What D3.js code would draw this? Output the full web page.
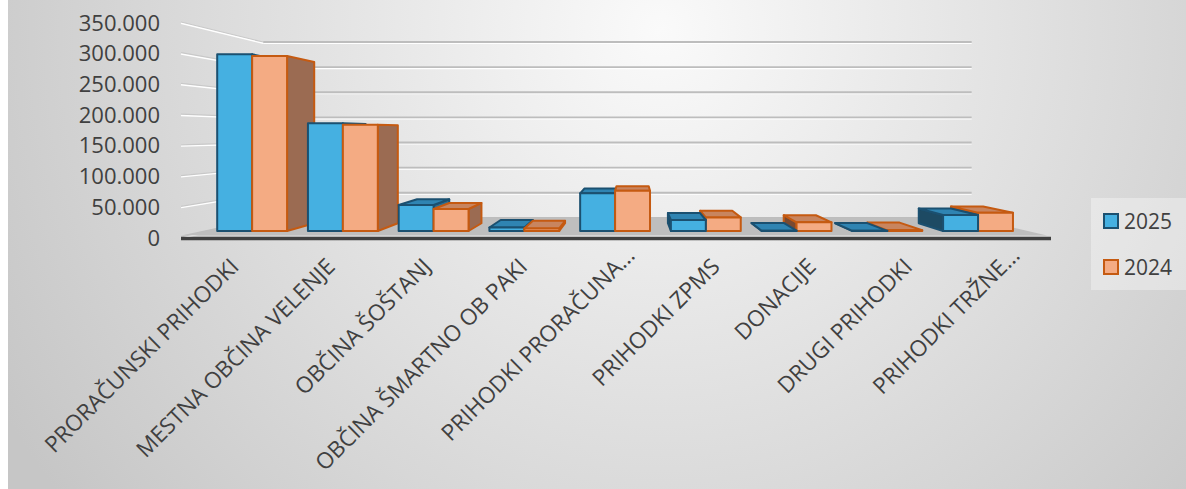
<!DOCTYPE html>
<html>
<head>
<meta charset="utf-8">
<script src="https://cdn.jsdelivr.net/npm/d3@7"></script>
<style>
    html, body { margin: 0; padding: 0; background: #fff; }
    svg { display: block; font-family: "Open Sans", sans-serif; }
</style>
</head>
<body>
<div id="chart"></div>
<script>
const categories = [
    'PRORAČUNSKI PRIHODKI',
    'MESTNA OBČINA VELENJE',
    'OBČINA ŠOŠTANJ',
    'OBČINA ŠMARTNO OB PAKI',
    'PRIHODKI PRORAČUNA…',
    'PRIHODKI ZPMS',
    'DONACIJE',
    'DRUGI PRIHODKI',
    'PRIHODKI TRŽNE…'
];
const seriesNames = ['2025', '2024'];
const values2025 = [305000, 186000, 45000, 6000, 65000, 19000, 500, 300, 27500];
const values2024 = [302000, 183500, 38000, 4500, 69500, 23500, 15000, 1200, 31500];
const yTicks = [0, 50000, 100000, 150000, 200000, 250000, 300000, 350000];

class Column3D {
    constructor({width, height}) {
        this.width = width;
        this.height = height;
        // vanishing point and depth factors (1 = front edge of the floor)
        this.vx = 633;
        this.vy = 132;
        this.wallDepth = 0.818;
        this.barFront = 0.943;
        this.barBack = 0.869;

        this.x = d3.scaleBand()
            .domain(categories)
            .range([181, 1047])
            .paddingInner(0.23)
            .paddingOuter(0.115);
        this.xSub = d3.scaleBand()
            .domain(seriesNames)
            .range([0, this.x.bandwidth()]);
        this.y = d3.scaleLinear()
            .domain([0, 350000])
            .range([237, 22]);

        this.styles = {
            '2025': {front: '#45B0E1', top: '#2F84B2', left: '#1D4A63', right: '#2B6E92', stroke: '#1B5070'},
            '2024': {front: '#F4AB83', top: '#C8855F', left: '#7A4A31', right: '#9B6B52', stroke: '#C55A11'}
        };

        this.svg = d3.select('#chart')
            .append('svg')
            .attr('width', width)
            .attr('height', height);

        this.drawBackground();
        this.drawWalls();
        this.drawBars();
        this.drawAxes();
        this.drawLegend();
    }

    /**
     * Perspective projection of a point of the front plane pushed back to depth f.
     */
    project(X, Y, f) {
        return [this.vx + (X - this.vx) * f, this.vy + (Y - this.vy) * f];
    }

    poly(points) {
        return 'M' + points.map(p => this.project(p[0], p[1], p[2]).join(',')).join('L') + 'Z';
    }

    drawBackground() {
        const defs = this.svg.append('defs');
        const grad = defs.append('radialGradient')
            .attr('id', 'bg')
            .attr('gradientUnits', 'userSpaceOnUse')
            .attr('cx', 660).attr('cy', 30).attr('r', 760);
        grad.append('stop').attr('offset', 0).attr('stop-color', '#FAFAFA');
        grad.append('stop').attr('offset', 1).attr('stop-color', '#C6C6C6');

        this.svg.append('rect')
            .attr('width', this.width)
            .attr('height', this.height)
            .attr('fill', 'url(#bg)');
        this.svg.append('rect')
            .attr('width', 8)
            .attr('height', this.height)
            .attr('fill', '#FFFFFF');
    }

    drawWalls() {
        const g = this.svg.append('g').classed('walls', true);
        const [x0, x1] = this.x.range();
        const w = this.wallDepth;

        yTicks.forEach(t => {
            const yt = this.y(t);
            const a = this.project(x0, yt, 1);
            const b = this.project(x0, yt, w);
            const c = this.project(x1, yt, w);
            // left wall (side) line
            g.append('line')
                .attr('x1', a[0]).attr('y1', a[1] + 1)
                .attr('x2', b[0]).attr('y2', b[1] + 1)
                .attr('stroke', '#FFFFFF').attr('stroke-width', 2);
            g.append('line')
                .attr('x1', a[0]).attr('y1', a[1])
                .attr('x2', b[0]).attr('y2', b[1])
                .attr('stroke', '#C8C8C8').attr('stroke-width', 1.2);
            // back wall line
            g.append('line')
                .attr('x1', b[0]).attr('y1', c[1] + 1.5)
                .attr('x2', c[0]).attr('y2', c[1] + 1.5)
                .attr('stroke', '#FFFFFF').attr('stroke-width', 1.2);
            g.append('line')
                .attr('x1', b[0]).attr('y1', c[1])
                .attr('x2', c[0]).attr('y2', c[1])
                .attr('stroke', '#BDBDBD').attr('stroke-width', 1.8);
        });

        // floor
        const y0 = this.y(0);
        g.append('path')
            .attr('d', this.poly([[x0, y0 - 1.5, 1], [x1, y0 - 1.5, 1], [x1, y0, w], [x0, y0, w]]))
            .attr('fill', '#BEBEBE');
    }

    drawBars() {
        const g = this.svg.append('g').classed('bars', true);
        const bars = [];
        categories.forEach((c, i) => {
            [values2025[i], values2024[i]].forEach((v, s) => {
                const name = seriesNames[s];
                const X0 = this.x(c) + this.xSub(name);
                const X1 = X0 + this.xSub.bandwidth();
                bars.push({name, X0, X1, Y0: this.y(0), Y1: this.y(v)});
            });
        });

        // far from the vanishing line first
        bars.sort((a, b) => Math.abs((b.X0 + b.X1) / 2 - this.vx) - Math.abs((a.X0 + a.X1) / 2 - this.vx));

        const fF = this.barFront;
        const fB = this.barBack;
        bars.forEach(d => {
            const st = this.styles[d.name];
            const faces = [];
            if (d.X1 < this.vx) {
                faces.push({fill: st.right, d: this.poly([[d.X1, d.Y0, fF], [d.X1, d.Y1, fF], [d.X1, d.Y1, fB], [d.X1, d.Y0, fB]])});
            }
            if (d.X0 > this.vx) {
                faces.push({fill: st.left, d: this.poly([[d.X0, d.Y0, fF], [d.X0, d.Y1, fF], [d.X0, d.Y1, fB], [d.X0, d.Y0, fB]])});
            }
            if (d.Y1 > this.vy) {
                faces.push({fill: st.top, d: this.poly([[d.X0, d.Y1, fF], [d.X1, d.Y1, fF], [d.X1, d.Y1, fB], [d.X0, d.Y1, fB]])});
            }
            faces.push({fill: st.front, d: this.poly([[d.X0, d.Y0, fF], [d.X1, d.Y0, fF], [d.X1, d.Y1, fF], [d.X0, d.Y1, fF]])});

            g.append('g')
                .selectAll('path')
                .data(faces)
                .enter()
                .append('path')
                .attr('d', f => f.d)
                .attr('fill', f => f.fill)
                .attr('stroke', st.stroke)
                .attr('stroke-width', 2)
                .attr('stroke-linejoin', 'round');
        });
    }

    drawAxes() {
        const [x0, x1] = this.x.range();
        // front edge of the floor
        this.svg.append('line')
            .attr('x1', x0).attr('y1', this.y(0) + 1.5)
            .attr('x2', x1 + 4).attr('y2', this.y(0) + 1.5)
            .attr('stroke', '#404040')
            .attr('stroke-width', 3.5);

        const fmt = d3.formatLocale({decimal: ',', thousands: '.', grouping: [3], currency: ['', '']}).format(',');
        const yAxis = d3.axisLeft(this.y)
            .tickValues(yTicks)
            .tickFormat(fmt)
            .tickSize(0)
            .tickPadding(0);
        this.svg.append('g')
            .attr('transform', 'translate(160,1)')
            .call(yAxis)
            .call(g => g.select('.domain').remove())
            .selectAll('text')
            .attr('fill', '#404040')
            .style('font-size', '22px')
            .style('font-family', '"Open Sans", sans-serif');

        // truncated names run a little further along the baseline
        const xAxis = d3.axisBottom(this.x)
            .tickSize(0)
            .tickPadding(0);
        this.svg.append('g')
            .attr('transform', `translate(0,${this.y(0)})`)
            .call(xAxis)
            .call(g => g.select('.domain').remove())
            .selectAll('text')
            .attr('fill', '#404040')
            .style('font-size', '22.5px')
            .style('font-family', '"Open Sans", sans-serif')
            .attr('text-anchor', 'end')
            .attr('dy', 0)
            .attr('y', 0)
            .attr('dx', d => d.endsWith('…') ? '0.7em' : 0)
            .attr('transform', 'translate(11,31) rotate(-45)');
    }

    drawLegend() {
        const g = this.svg.append('g')
            .attr('transform', 'translate(1091,198)');
        g.append('rect')
            .attr('width', 95)
            .attr('height', 92)
            .attr('fill', '#FFFFFF')
            .attr('fill-opacity', 0.35);
        const item = g.selectAll('.item')
            .data(seriesNames)
            .enter()
            .append('g')
            .attr('class', 'item')
            .attr('transform', (d, i) => `translate(13,${16 + i * 46})`);
        item.append('rect')
            .attr('width', 14)
            .attr('height', 14)
            .attr('fill', d => this.styles[d].front)
            .attr('stroke', d => this.styles[d].stroke)
            .attr('stroke-width', 2);
        item.append('text')
            .attr('x', 20)
            .attr('y', 8)
            .attr('dy', '0.35em')
            .attr('fill', '#404040')
            .style('font-size', '21px')
            .text(d => d);
    }
}

new Column3D({width: 1186, height: 489});
</script>
</body>
</html>
